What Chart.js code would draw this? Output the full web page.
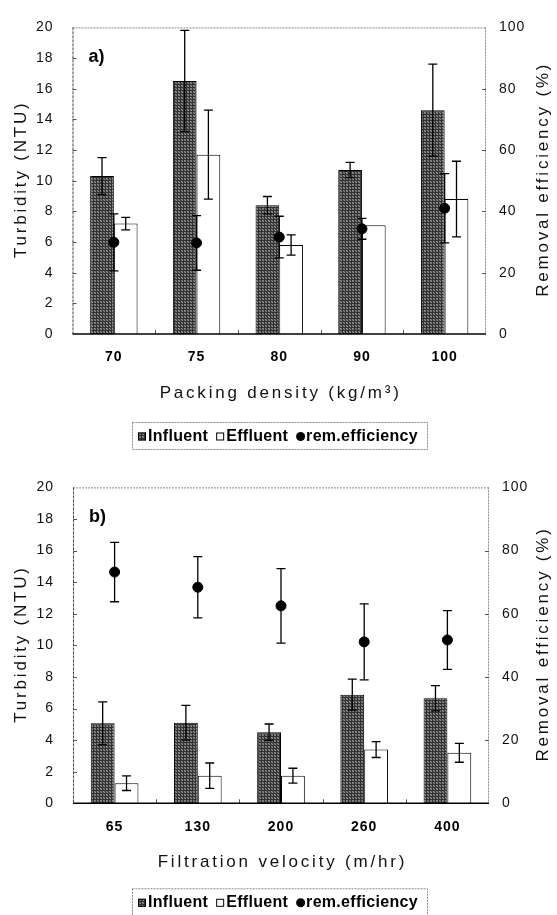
<!DOCTYPE html>
<html>
<head>
<meta charset="utf-8">
<script src="https://cdn.jsdelivr.net/npm/chart.js@4.4.1/dist/chart.umd.min.js"></script>
<style>
  html, body { margin: 0; padding: 0; background: #fff; }
  canvas { position: absolute; left: 0; }
  #chartA { top: 0; }
  #chartB { top: 460px; }
</style>
</head>
<body>
<canvas id="chartA" width="557" height="460"></canvas>
<canvas id="chartB" width="557" height="455"></canvas>
<script>
// ---- a) turbidity vs packing density ----
const densityLabels = ['70', '75', '80', '90', '100'];
const densityInfluent = [10.3, 16.5, 8.4, 10.7, 14.6];
const densityInfluentErr = [1.2, 3.3, 0.57, 0.5, 3.0];
const densityEffluent = [7.2, 11.7, 5.8, 7.1, 8.8];
const densityEffluentErr = [0.41, 2.9, 0.66, 0, 2.47];
const densityEfficiency = [29.9, 29.7, 31.6, 34.3, 41.0];
const densityEfficiencyErr = [9.3, 8.9, 6.8, 3.4, 11.3];

// ---- b) turbidity vs filtration velocity ----
const velocityLabels = ['65', '130', '200', '260', '400'];
const velocityInfluent = [5.07, 5.1, 4.5, 6.88, 6.65];
const velocityInfluentErr = [1.35, 1.1, 0.52, 0.98, 0.8];
const velocityEffluent = [1.27, 1.75, 1.75, 3.4, 3.2];
const velocityEffluentErr = [0.46, 0.8, 0.47, 0.5, 0.6];
const velocityEfficiency = [73.2, 68.4, 62.5, 51.1, 51.7];
const velocityEfficiencyErr = [9.4, 9.7, 11.8, 12.0, 9.3];

// axis ranges
const turbidityMax = 20, turbidityStep = 2;
const efficiencyMax = 100, efficiencyStep = 20;

const FONT = "'Liberation Sans', Arial, Helvetica, sans-serif";
Chart.defaults.font.family = FONT;
Chart.defaults.color = '#111';

// cross-hatched grey fill used for the influent bars
function makeHatch() {
  const tile = [
     50,  50,  50,  50,  50,  50,
     50, 150, 105,  50, 140,  95,
     50,  95, 145,  50,  90, 155,
     50,  50,  50,  50,  50,  50,
     50, 130,  90,  50, 155, 110,
     50,  85, 140,  50, 105, 130
  ];
  const c = document.createElement('canvas');
  c.width = 6; c.height = 6;
  const g = c.getContext('2d');
  const img = g.createImageData(6, 6);
  tile.forEach((v, i) => {
    img.data[i * 4] = v; img.data[i * 4 + 1] = v; img.data[i * 4 + 2] = v; img.data[i * 4 + 3] = 255;
  });
  g.putImageData(img, 0, 0);
  return c.getContext('2d').createPattern(c, 'repeat');
}
const hatch = makeHatch();

// frame, inward ticks, error bars, titles and the boxed legend
const panelDecor = {
  id: 'panelDecor',
  beforeDraw(chart) {
    chart.ctx.letterSpacing = '1px';
  },
  beforeDatasetDraw(chart, args) {
    if (args.index !== 0) return;
    const ctx = chart.ctx;
    ctx.save();
    ctx.strokeStyle = '#000';
    ctx.lineWidth = 1.3;
    chart.data.datasets.forEach((ds, di) => {
      if (!ds.errors) return;
      const meta = chart.getDatasetMeta(di);
      const scale = chart.scales[ds.yAxisID || 'y'];
      meta.data.forEach((el, i) => {
        const e = ds.errors[i];
        if (!e) return;
        const v = ds.data[i];
        const y1 = scale.getPixelForValue(v + e);
        const y2 = scale.getPixelForValue(v - e);
        const x = el.x;
        ctx.beginPath();
        ctx.moveTo(x, y1); ctx.lineTo(x, y2);
        ctx.moveTo(x - 4.5, y1); ctx.lineTo(x + 4.5, y1);
        ctx.moveTo(x - 4.5, y2); ctx.lineTo(x + 4.5, y2);
        ctx.stroke();
      });
    });
    ctx.restore();
  },
  afterDraw(chart, args, opts) {
    const ctx = chart.ctx;
    const a = chart.chartArea;
    const ys = chart.scales.y, ys1 = chart.scales.y1, xs = chart.scales.x;
    ctx.save();

    // frame
    ctx.lineWidth = 1;
    ctx.strokeStyle = '#8a8a8a';
    ctx.setLineDash([2, 1]);
    ctx.beginPath();
    ctx.moveTo(a.left, a.top + 0.5); ctx.lineTo(a.right, a.top + 0.5);
    ctx.moveTo(a.right - 0.5, a.top); ctx.lineTo(a.right - 0.5, a.bottom);
    ctx.stroke();
    ctx.strokeStyle = '#444';
    ctx.setLineDash([3, 1]);
    ctx.beginPath();
    ctx.moveTo(a.left + 0.5, a.top); ctx.lineTo(a.left + 0.5, a.bottom);
    ctx.stroke();
    ctx.setLineDash([]);

    // inward ticks
    ctx.strokeStyle = '#555';
    ctx.beginPath();
    for (let v = turbidityStep; v < turbidityMax; v += turbidityStep) {
      const y = Math.round(ys.getPixelForValue(v)) + 0.5;
      ctx.moveTo(a.left, y); ctx.lineTo(a.left + 4, y);
    }
    for (let v = efficiencyStep; v < efficiencyMax; v += efficiencyStep) {
      const y = Math.round(ys1.getPixelForValue(v)) + 0.5;
      ctx.moveTo(a.right, y); ctx.lineTo(a.right - 4, y);
    }
    for (let i = 0; i < chart.data.labels.length - 1; i++) {
      const x = Math.round((xs.getPixelForValue(i) + xs.getPixelForValue(i + 1)) / 2) + 0.5;
      ctx.moveTo(x, a.bottom); ctx.lineTo(x, a.bottom - 4);
    }
    ctx.stroke();

    // x axis line
    ctx.strokeStyle = '#000';
    ctx.lineWidth = 1.6;
    ctx.beginPath();
    ctx.moveTo(a.left, a.bottom); ctx.lineTo(a.right, a.bottom);
    ctx.stroke();

    // panel letter
    ctx.letterSpacing = '0px';
    ctx.fillStyle = '#000';
    ctx.font = 'bold 18px ' + FONT;
    ctx.textAlign = 'left';
    ctx.textBaseline = 'middle';
    ctx.fillText(opts.letter, a.left + 16, a.top + 30);

    // axis titles
    ctx.font = '17px ' + FONT;
    ctx.letterSpacing = '2.8px';
    ctx.textAlign = 'center';
    ctx.fillStyle = '#111';
    ctx.fillText(opts.xTitle, (a.left + a.right) / 2 + 1.4, a.bottom + 59.5);
    const midY = (a.top + a.bottom) / 2;
    ctx.save();
    ctx.translate(21.5, midY);
    ctx.rotate(-Math.PI / 2);
    ctx.fillText('Turbidity (NTU)', 1.4, 0);
    ctx.restore();
    ctx.save();
    ctx.translate(543, midY);
    ctx.rotate(-Math.PI / 2);
    ctx.fillText('Removal efficiency (%)', 1.4, 0);
    ctx.restore();

    // boxed legend
    const ly = a.bottom + opts.legendOffset;
    const boxL = 132, boxR = 427, boxH = 27;
    ctx.letterSpacing = '0.3px';
    ctx.strokeStyle = '#888';
    ctx.lineWidth = 1;
    ctx.setLineDash([2, 1]);
    ctx.strokeRect(boxL + 0.5, ly + 0.5, boxR - boxL, boxH);
    ctx.setLineDash([]);
    const cy = ly + 13.5;
    ctx.font = 'bold 16px ' + FONT;
    ctx.textAlign = 'left';
    ctx.textBaseline = 'middle';
    ctx.fillStyle = '#000';
    let x = 138;
    chart.data.datasets.slice().sort((p, q) => p.legendOrder - q.legendOrder).forEach(ds => {
      if (ds.type === 'line') {
        ctx.beginPath();
        ctx.arc(x + 4.5, cy + 1, 4.5, 0, Math.PI * 2);
        ctx.fillStyle = '#000';
        ctx.fill();
        x += 10;
      } else {
        ctx.fillStyle = ds.backgroundColor;
        ctx.fillRect(x, cy - 3, 8, 8);
        ctx.strokeStyle = '#000';
        ctx.strokeRect(x + 0.5, cy - 2.5, 7, 7);
        x += 10;
      }
      ctx.fillStyle = '#000';
      ctx.fillText(ds.label, x, cy + 1);
      x += ctx.measureText(ds.label).width + 8;
    });

    ctx.restore();
  }
};

function buildPanel(canvasId, labels, inf, infErr, eff, effErr, rem, remErr, geo) {
  return new Chart(document.getElementById(canvasId), {
    type: 'bar',
    data: {
      labels: labels,
      datasets: [
        {
          type: 'line', label: 'rem.efficiency', data: rem, errors: remErr, legendOrder: 2,
          yAxisID: 'y1', showLine: false, pointRadius: 5, pointHoverRadius: 5,
          pointBackgroundColor: '#000', pointBorderColor: '#000', borderColor: '#000'
        },
        {
          label: 'Influent', data: inf, errors: infErr, legendOrder: 0, yAxisID: 'y',
          backgroundColor: hatch, borderColor: '#000', borderWidth: 1,
          barPercentage: 1, categoryPercentage: 0.573
        },
        {
          label: 'Effluent', data: eff, errors: effErr, legendOrder: 1, yAxisID: 'y',
          backgroundColor: '#fff', borderColor: '#000', borderWidth: 1,
          barPercentage: 1, categoryPercentage: 0.573
        }
      ]
    },
    options: {
      responsive: false,
      animation: false,
      devicePixelRatio: 1,
      layout: { padding: { top: geo.top, left: 0, right: 0, bottom: 0 } },
      plugins: {
        legend: { display: false },
        tooltip: { enabled: false },
        panelDecor: { letter: geo.letter, xTitle: geo.xTitle, legendOffset: geo.legendOffset }
      },
      scales: {
        x: {
          grid: { display: false, drawTicks: false },
          border: { display: false },
          ticks: { padding: 15, color: '#000', font: { size: 14, weight: 'bold' } },
          afterFit: s => { s.height = geo.xHeight; }
        },
        y: {
          position: 'left', min: 0, max: turbidityMax,
          grid: { display: false, drawTicks: false },
          border: { display: false },
          ticks: { stepSize: turbidityStep, padding: 19, font: { size: 14 } },
          afterFit: s => { s.width = geo.left; }
        },
        y1: {
          position: 'right', min: 0, max: efficiencyMax,
          grid: { display: false, drawTicks: false },
          border: { display: false },
          ticks: { stepSize: efficiencyStep, padding: 13, font: { size: 14 } },
          afterFit: s => { s.width = geo.right; }
        }
      }
    },
    plugins: [panelDecor]
  });
}

buildPanel('chartA', densityLabels, densityInfluent, densityInfluentErr,
  densityEffluent, densityEffluentErr, densityEfficiency, densityEfficiencyErr,
  { top: 12.5, left: 72.5, right: 71, xHeight: 126, letter: 'a)',
    xTitle: 'Packing density (kg/m³)', legendOffset: 88 });

buildPanel('chartB', velocityLabels, velocityInfluent, velocityInfluentErr,
  velocityEffluent, velocityEffluentErr, velocityEfficiency, velocityEfficiencyErr,
  { top: 14.5, left: 73, right: 68, xHeight: 111.7, letter: 'b)',
    xTitle: 'Filtration velocity (m/hr)', legendOffset: 85 });
</script>
</body>
</html>
